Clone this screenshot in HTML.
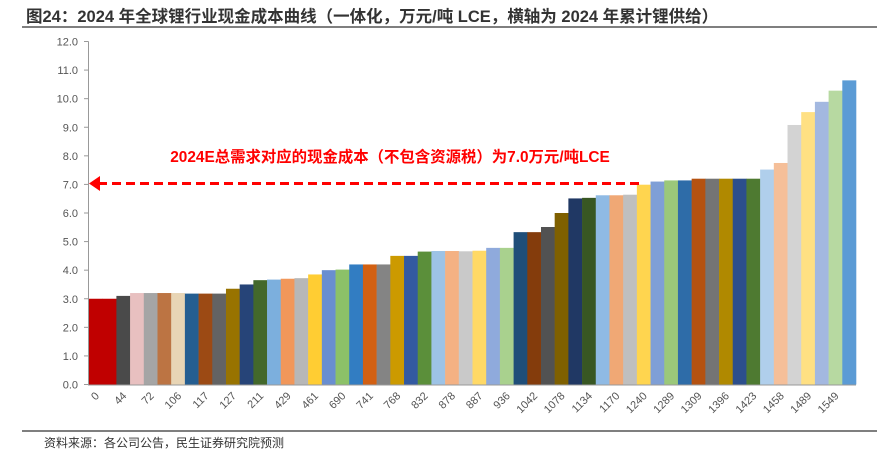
<!DOCTYPE html>
<html><head><meta charset="utf-8"><style>
body{margin:0;background:#fff;}
svg text{font-family:"Liberation Sans","Noto Sans CJK SC",sans-serif;}
</style></head><body>
<svg id="c" width="877" height="465" viewBox="0 0 877 465" xmlns="http://www.w3.org/2000/svg">
<text x="26" y="22" font-size="16.5" font-weight="bold" fill="#333">图24：2024 年全球锂行业现金成本曲线（一体化，万元/吨 LCE，横轴为 2024 年累计锂供给）</text>
<line x1="22" y1="27" x2="877" y2="27" stroke="#555" stroke-width="1.5"/>
<g id="yaxis"></g>
<g id="bars"></g>
<g id="xaxis"></g>
<line x1="98" y1="183.5" x2="640" y2="183.5" stroke="#f00" stroke-width="3" stroke-dasharray="9,5"/>
<polygon points="89,183.5 100,176 100,191" fill="#f00"/>
<text x="390" y="162" font-size="15.4" font-weight="bold" fill="#f00" text-anchor="middle">2024E总需求对应的现金成本（不包含资源税）为7.0万元/吨LCE</text>
<line x1="22" y1="431" x2="877" y2="431" stroke="#555" stroke-width="1.5"/>
<text x="44" y="447" font-size="12" fill="#333">资料来源：各公司公告，民生证券研究院预测</text>
</svg>
<script>
const values=[3.0,3.0,3.1,3.2,3.2,3.2,3.2,3.18,3.18,3.18,3.35,3.5,3.65,3.67,3.7,3.72,3.85,4.0,4.02,4.2,4.2,4.2,4.5,4.5,4.65,4.67,4.67,4.66,4.68,4.78,4.78,5.33,5.33,5.51,6.0,6.51,6.53,6.62,6.62,6.64,6.99,7.1,7.14,7.14,7.2,7.2,7.2,7.2,7.2,7.52,7.75,9.08,9.53,9.89,10.28,10.64];
const colors=["#c00000","#c00000","#4a4a4a","#e8c0c0","#a5a5a5","#bc7443","#e8d5b5","#255e91","#9c4a14","#636363","#987300","#264478","#43682b","#7cafdd","#f1975a","#b7b7b7","#ffcd33","#698ed0","#8cc168","#327dc2","#d26012","#848484","#cc9a00","#335aa1","#5b8f3a","#9dc3e6","#f4b183","#c9c9c9","#ffd966","#8faadc","#a9d18e","#1f4e79","#843c0c","#525252","#7f6000","#203864","#385723","#8fbae4","#f0a875","#bfbfbf","#ffd54f","#7f9fd6","#9bc87a","#2e6ca8","#b55211","#747474","#b08900","#2c4f8c","#4e7a31","#b0cfec","#f5bf99","#d3d3d3","#ffe083","#a3b8e0","#b7d9a1","#5b9bd5"];
const xLabels=["0","44","72","106","117","127","211","429","461","690","741","768","832","878","887","936","1042","1078","1134","1170","1240","1289","1309","1396","1423","1458","1489","1549"];
const yTicks=[0,1,2,3,4,5,6,7,8,9,10,11,12];
const NS="http://www.w3.org/2000/svg";
const X0=89,X1=856,Y0=384.5,YT=41.5,YMAX=12;
const slot=(X1-X0)/values.length;
const xs=i=>X0+i*slot;
const ys=v=>Y0-(v/YMAX)*(Y0-YT);
function mk(t,a,p){const e=document.createElementNS(NS,t);for(const k in a)e.setAttribute(k,a[k]);p.appendChild(e);return e;}
const ya=document.getElementById('yaxis'),ba=document.getElementById('bars'),xa=document.getElementById('xaxis');
mk('line',{x1:88.5,y1:YT,x2:88.5,y2:Y0,stroke:'#999'},ya);
yTicks.forEach(v=>{
 const y=ys(v);
 const t=mk('line',{x1:84,y1:y,x2:88.5,y2:y,stroke:'#999'},ya);
 
 
 const l=mk('text',{x:78,y:y+4,'font-size':11,fill:'#555','text-anchor':'end'},ya);
 l.textContent=v.toFixed(1);
 
 
});
values.forEach((v,i)=>{
 const r=mk('rect',{x:xs(i),y:ys(v),width:slot+0.3,height:Y0-ys(v),fill:colors[i]},ba);
 
 
});
mk('line',{x1:88,y1:Y0+0.5,x2:X1,y2:Y0+0.5,stroke:'#999'},xa);
xLabels.forEach((s,j)=>{
 const cx=xs(j*2)+slot*0.5+4,cy=Y0+12;
 const t=mk('text',{x:cx,y:cy,'font-size':11,fill:'#555','text-anchor':'end',transform:`rotate(-45 ${cx} ${cy})`},xa);
 t.textContent=s;
 
 
});
</script>
</body></html>
